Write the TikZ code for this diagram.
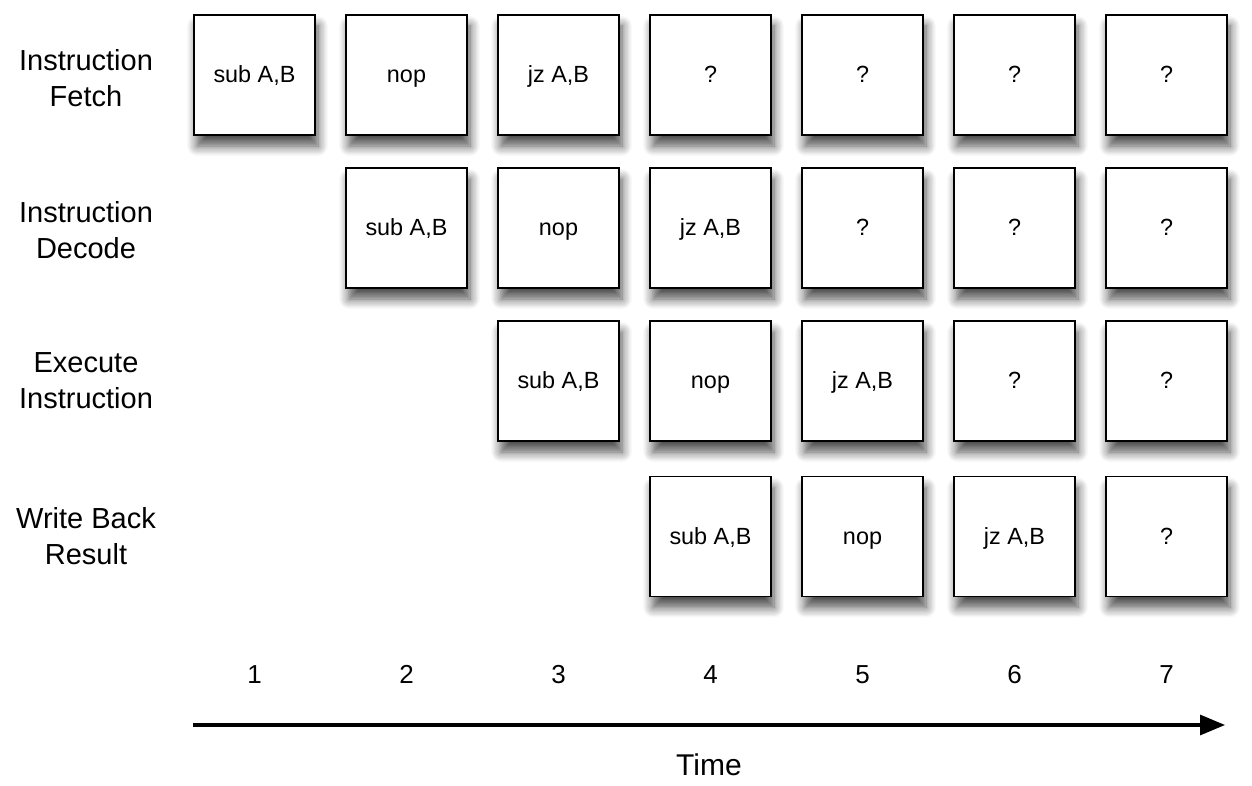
\documentclass[tikz,border=0pt]{standalone}
\usepackage{fontspec}
\setmainfont{Liberation Sans}
\usetikzlibrary{positioning,shadows.blur}
\usetikzlibrary{arrows.meta}

\begin{document}
\begin{tikzpicture}[node distance = 15.75pt and 14.75pt,
	slot/.style = {rectangle, draw=black, line width=0.75pt, fill=white,
		minimum width=60.5pt, minimum height=60pt, inner sep=0pt,
		text height=1.6ex, text depth=0.15ex,
		font=\fontsize{11.7}{14}\selectfont,
		blur shadow={shadow xshift=1.5pt, shadow yshift=-5.5pt, shadow blur radius=5pt, shadow blur steps=8, shadow opacity=70}},
	stage/.style = {align=center, font=\fontsize{14.5}{18}\selectfont},
	num/.style = {font=\fontsize{13}{16}\selectfont, text height=1.6ex, text depth=0pt},
	timeline/.style = {line width=1.6pt, -{Triangle[length=12.5pt, width=10pt]}}]
	\useasboundingbox (0,0) rectangle (626pt,-393pt);
	
	% row 1: fetch
	\node[slot] (f1) at (127.25pt,-37.5pt) {sub A,B};
	\node[slot] (f2) [right = of f1] {nop};
	\node[slot] (f3) [right = of f2] {jz A,B};
	\node[slot] (f4) [right = of f3] {?};
	\node[slot] (f5) [right = of f4] {?};
	\node[slot] (f6) [right = of f5] {?};
	\node[slot] (f7) [right = of f6] {?};
	
	% row 2: decode
	\node[slot] (d2) [below = of f2] {sub A,B};
	\node[slot] (d3) [right = of d2] {nop};
	\node[slot] (d4) [right = of d3] {jz A,B};
	\node[slot] (d5) [right = of d4] {?};
	\node[slot] (d6) [right = of d5] {?};
	\node[slot] (d7) [right = of d6] {?};
	
	% row 3: execute
	\node[slot] (e3) [below = of d3] {sub A,B};
	\node[slot] (e4) [right = of e3] {nop};
	\node[slot] (e5) [right = of e4] {jz A,B};
	\node[slot] (e6) [right = of e5] {?};
	\node[slot] (e7) [right = of e6] {?};
	
	% row 4: write back
	\node[slot] (w4) [below = 17pt of e4] {sub A,B};
	\node[slot] (w5) [right = of w4] {nop};
	\node[slot] (w6) [right = of w5] {jz A,B};
	\node[slot] (w7) [right = of w6] {?};
	
	% labels for stages
	\coordinate (labcol) at (43pt,0);
	\node[stage] (lfetch)   at ([yshift=-1.5pt]f1 -| labcol) {Instruction\\Fetch};
	\node[stage] (ldecode)  at ([yshift=-1pt]d2 -| labcol) {Instruction\\Decode};
	\node[stage] (lexec)    at (e3 -| labcol) {Execute\\Instruction};
	\node[stage] (lwrite)   at (w4 -| labcol) {Write Back\\Result};
	
	% clock cycles
	\coordinate (numrow) at (0,-337.5pt);
	\node[num] (t1) at (f1 |- numrow) {1};
	\node[num] (t2) at (f2 |- numrow) {2};
	\node[num] (t3) at (f3 |- numrow) {3};
	\node[num] (t4) at (f4 |- numrow) {4};
	\node[num] (t5) at (f5 |- numrow) {5};
	\node[num] (t6) at (f6 |- numrow) {6};
	\node[num] (t7) at (f7 |- numrow) {7};
	
	% time axis
	\coordinate (tstart) at (96.5pt,-362.5pt);
	\coordinate (tend)   at (612.5pt,-362.5pt);
	\draw[timeline] (tstart) -- (tend) coordinate[midway] (tmid);
	\node[font=\fontsize{15}{18}\selectfont] (time) at ([yshift=-20pt]tmid) {Time};
\end{tikzpicture}
\end{document}
